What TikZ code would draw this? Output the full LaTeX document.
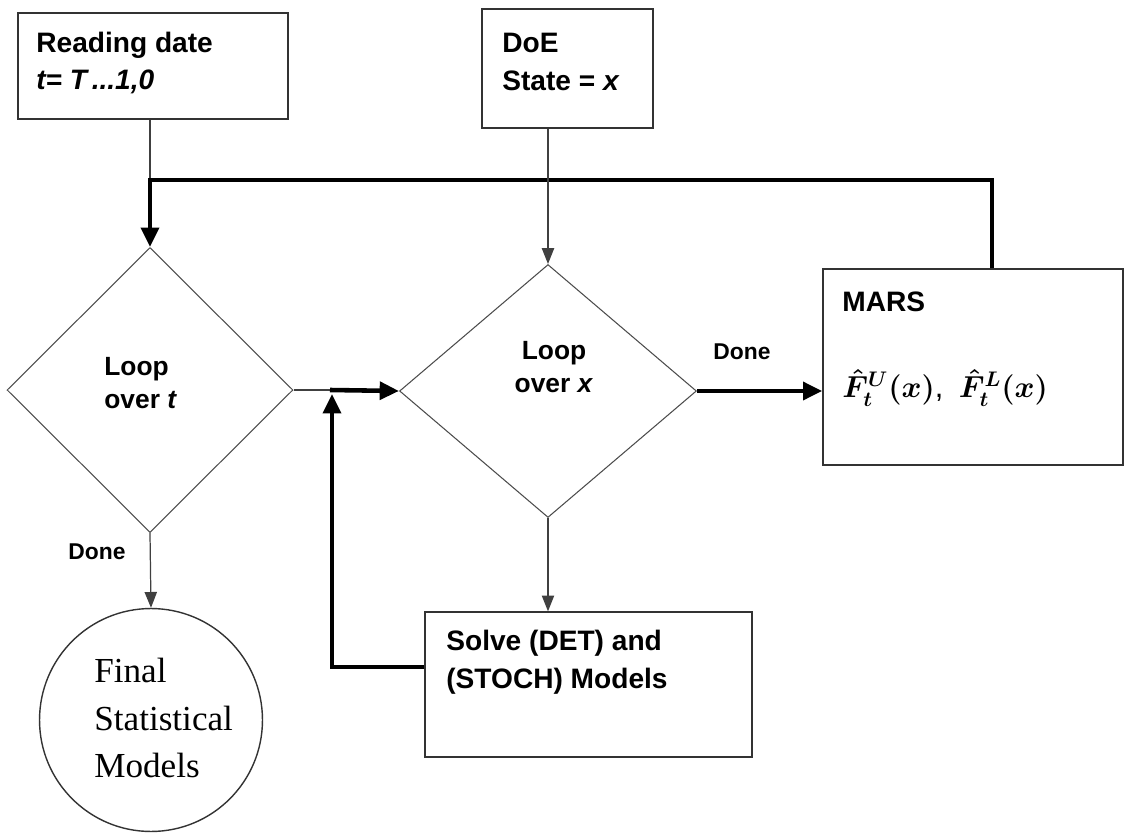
\documentclass[tikz,border=0pt]{standalone}
\usepackage{fontspec}
\setmainfont{Liberation Sans}
\newfontfamily\serifface{Liberation Serif}
\usetikzlibrary{shapes.geometric,arrows.meta,calc}
\newcommand\marsformula{{\boldmath$\hat{F}_t^{U}(x)$,\enspace$\hat{F}_t^{L}(x)$}}
\begin{document}
\begin{tikzpicture}[x=0.02cm,y=-0.02cm,
  box/.style={draw=black!80,line width=0.8pt,rectangle,inner sep=0pt},
  dia/.style={draw=black!70,line width=0.6pt,diamond,inner sep=0pt},
  txt/.style={font=\bfseries\fontsize{16}{21.5}\selectfont,align=left,inner sep=0pt},
  dtxt/.style={font=\bfseries\fontsize{15}{19}\selectfont,inner sep=0pt},
  ftxt/.style={font=\fontsize{17.5}{21}\selectfont,inner sep=0pt},
  stxt/.style={font=\serifface\fontsize{20}{27}\selectfont,align=left,inner sep=0pt},
  donetxt/.style={font=\bfseries\fontsize{13}{16}\selectfont,inner sep=0pt},
  thinline/.style={draw=black!75,line width=0.7pt},
  thinarrow/.style={thinline,-{Triangle[length=9pt,width=7pt]}},
  thickline/.style={draw=black,line width=2.6pt},
  thickarrow/.style={thickline,-{Triangle[length=11pt,width=10pt]}}]
\useasboundingbox (0,0) rectangle (1127,835);
% boxes
\node[box,minimum width=5.4cm,minimum height=2.12cm] (read) at (153,66) {};
\node[box,minimum width=3.42cm,minimum height=2.38cm] (doe) at (567.5,68.5) {};
\node[box,minimum width=6cm,minimum height=3.92cm] (mars) at (973,367) {};
\node[box,minimum width=6.54cm,minimum height=2.9cm] (solve) at (588.5,684.5) {};
\node[draw=black!80,line width=0.8pt,circle,minimum size=4.46cm,inner sep=0pt] (final) at (151,720) {};
\node[dia,minimum width=5.72cm,minimum height=5.7cm] (d1) at (150,390) {};
\node[dia,minimum width=5.94cm,minimum height=5.06cm] (d2) at (548,391) {};
% texts
\node[txt,anchor=west] (readt) at (36,63) {Reading date\\\textit{t= T\,...1,0}};
\node[txt,anchor=west] (doet) at (502,62) {DoE\\State = \textit{x}};
\node[txt,anchor=west] (marst) at (842,302) {MARS};
\node[ftxt,anchor=west] (form) at (842,388) {{\marsformula}};
\node[txt,anchor=west] (solvet) at (446,662) {Solve (DET) and\\(STOCH) Models};
\node[dtxt,align=left,anchor=west] (d1t) at (104,383) {Loop\\over \textit{t}};
\node[dtxt,align=center] (d2t) at (554,367) {Loop\\over \textit{x}};
\node[stxt,anchor=west] (finalt) at (94,718) {Final\\Statistical\\Models};
\node[donetxt] (done1) at (97,552) {Done};
\node[donetxt] (done2) at (742,352) {Done};
% connectors
\coordinate (j1) at (150,180);
\coordinate (j2) at (992,180);
\coordinate (j3) at (330,390);
\coordinate (j4) at (332,667);
\coordinate (j5) at (332,394);
\draw[thinline] (j1 |- read.south) -- (j1);
\draw[thickarrow] (j2 |- mars.north) -- (j2) -- (j1) -- (d1.north);
\draw[thinarrow] (d2.north |- doe.south) -- (d2.north);
\draw[thinline] (d1.east) -- (j3);
\draw[thickarrow] (j3) -- (d2.west);
\draw[thickarrow] (j4 -| solve.west) -- (j4) -- (j5);
\draw[thinarrow] (d2.south) -- (d2.south |- solve.north);
\draw[thickarrow] (d2.east) -- (d2.east -| mars.west);
\draw[thinarrow] (d1.south) -- (final.north);
\end{tikzpicture}
\end{document}
